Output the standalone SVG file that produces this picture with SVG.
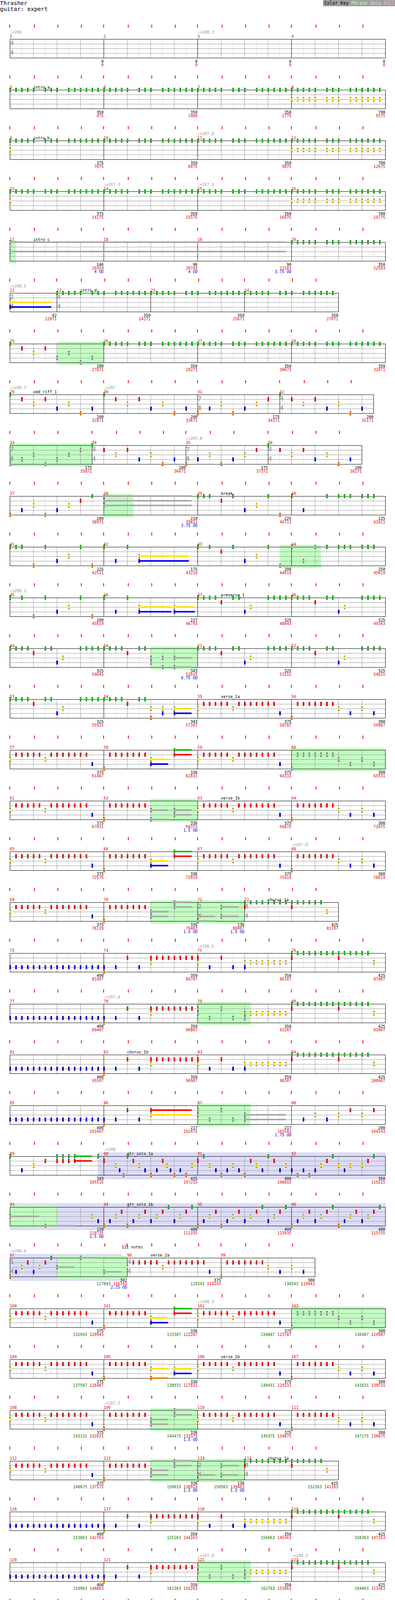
<svg xmlns="http://www.w3.org/2000/svg" width="1010" height="5575" viewBox="0 0 1010 5575" shape-rendering="crispEdges">
<style>
text{font-family:"DejaVu Sans Mono","Liberation Mono",monospace;font-size:10px;fill:#000}
.k{fill:#000}.cg{fill:#00c000}.cr{fill:#f00}.cy{fill:#ffe000}.cb{fill:#0000f0}.co{fill:#ff8000}.cs{fill:#a8a8a8}
.hp{fill:#c0ffc0}.hs{fill:#dcdcf8}.tk{fill:#f00}.bd{fill:none;stroke:#000}.wh{fill:#fff}
.s{text-anchor:end}.rd{fill:#d00}.gr{fill:#070}.bl{fill:#00d}.tp{fill:#999}.ts{fill:#999;font-size:15px;font-weight:bold}
</style>
<defs>
<pattern id="gp" x="25" y="100" width="60" height="130" patternUnits="userSpaceOnUse"><path d="M30.5 0V48" stroke="#ddd"/><path d="M0.5 0V48M0 12.5H60M0 24.5H60M0 36.5H60" stroke="#999"/></pattern>
<rect id="ml" class="k" width="1" height="48"/>
<g id="t2" class="tk"><rect x="-1" y="-37" width="2" height="8"/><rect x="62" y="-37" width="2" height="8"/></g>
<g id="t3" class="tk"><rect x="-1" y="-37" width="2" height="8"/><rect x="62" y="-37" width="2" height="8"/><rect x="122" y="-37" width="2" height="8"/></g>
<g id="t4" class="tk"><rect x="-1" y="-37" width="2" height="8"/><rect x="62" y="-37" width="2" height="8"/><rect x="122" y="-37" width="2" height="8"/><rect x="182" y="-37" width="2" height="8"/></g>
<g id="t5" class="tk"><rect x="-1" y="-37" width="2" height="8"/><rect x="62" y="-37" width="2" height="8"/><rect x="122" y="-37" width="2" height="8"/><rect x="182" y="-37" width="2" height="8"/><rect x="242" y="-37" width="2" height="8"/></g>
<g id="row4"><use href="#t4" x="25"/><use href="#t4" x="265"/><use href="#t4" x="505"/><use href="#t4" x="745"/><use href="#ml" x="25"/><use href="#ml" x="265"/><use href="#ml" x="505"/><use href="#ml" x="745"/><rect class="bd" x="25.5" y="0.5" width="960" height="48"/></g>
<g id="ts44"><text class="ts" x="1" y="16">4</text><text class="ts" x="1" y="40">4</text></g>
<g id="G"><rect class="k" x="-1" y="-5" width="4" height="10"/><rect class="cg" x="-1" y="-4" width="4" height="8"/></g>
<g id="R"><rect class="k" x="-1" y="7" width="4" height="10"/><rect class="cr" x="-1" y="8" width="4" height="8"/></g>
<g id="Y"><rect class="k" x="-1" y="19" width="4" height="10"/><rect class="cy" x="-1" y="20" width="4" height="8"/></g>
<g id="B"><rect class="k" x="-1" y="31" width="4" height="10"/><rect class="cb" x="-1" y="32" width="4" height="8"/></g>
<g id="O"><rect class="k" x="-1" y="43" width="4" height="10"/><rect class="co" x="-1" y="44" width="4" height="8"/></g>
<g id="g"><rect class="k" x="-1" y="-5" width="4" height="10"/><rect class="cs" x="-1" y="-4" width="4" height="8"/></g>
<g id="r"><rect class="k" x="-1" y="7" width="4" height="10"/><rect class="cs" x="-1" y="8" width="4" height="8"/></g>
<g id="y"><rect class="k" x="-1" y="19" width="4" height="10"/><rect class="cs" x="-1" y="20" width="4" height="8"/></g>
<g id="b"><rect class="k" x="-1" y="31" width="4" height="10"/><rect class="cs" x="-1" y="32" width="4" height="8"/></g>
<g id="o"><rect class="k" x="-1" y="43" width="4" height="10"/><rect class="cs" x="-1" y="44" width="4" height="8"/></g>
<g id="P"><use href="#G"/><use href="#G" x="15"/><use href="#G" x="30"/><use href="#G" x="45"/><use href="#G" x="60"/><use href="#G" x="90"/><use href="#G" x="105"/><use href="#G" x="120"/><use href="#G" x="150"/><use href="#G" x="165"/><use href="#G" x="180"/><use href="#G" x="195"/><use href="#G" x="210"/><use href="#G" x="225"/></g>
<g id="PY"><use href="#Y"/><use href="#Y" x="15"/><use href="#Y" x="30"/><use href="#Y" x="45"/><use href="#Y" x="60"/><use href="#Y" x="90"/><use href="#Y" x="105"/><use href="#Y" x="120"/><use href="#Y" x="150"/><use href="#Y" x="165"/><use href="#Y" x="180"/><use href="#Y" x="195"/><use href="#Y" x="210"/><use href="#Y" x="225"/></g>
<g id="A1"><use href="#G"/><use href="#G" x="15"/><use href="#G" x="30"/><use href="#G" x="45"/><use href="#R" x="60"/><use href="#G" x="90"/><use href="#G" x="105"/></g>
<g id="A"><use href="#A1"/><use href="#B" x="120"/><use href="#Y" x="135"/><use href="#G" x="180"/><use href="#G" x="195"/><use href="#G" x="210"/><use href="#G" x="225"/></g>
<g id="V1"><use href="#Y"/><use href="#R" x="15"/><use href="#R" x="30"/><use href="#R" x="45"/><use href="#R" x="60"/><use href="#R" x="75"/><use href="#Y" x="90"/><use href="#R" x="105"/><use href="#R" x="120"/><use href="#R" x="135"/><use href="#R" x="150"/><use href="#R" x="165"/><use href="#R" x="180"/><use href="#R" x="195"/><use href="#B" x="210"/></g>
<g id="V3a"><use href="#O"/><use href="#R" x="15"/><use href="#R" x="30"/><use href="#R" x="45"/><use href="#R" x="60"/><use href="#R" x="75"/><use href="#R" x="90"/><use href="#R" x="105"/></g>
<g id="V2"><use href="#V3a"/><use href="#Y" x="120"/><use href="#B" x="150"/><use href="#Y" x="180"/><use href="#B" x="210"/></g>
<g id="v2"><use href="#o"/><use href="#r" x="15"/><use href="#r" x="30"/><use href="#r" x="45"/><use href="#r" x="60"/><use href="#r" x="75"/><use href="#r" x="90"/><use href="#r" x="105"/><use href="#y" x="120"/><use href="#b" x="150"/><use href="#y" x="180"/><use href="#b" x="210"/></g>
<g id="V3b"><rect class="cy" x="120" y="22" width="45" height="4"/><rect class="cb" x="120" y="34" width="45" height="4"/><rect class="cg" x="180" y="-2" width="45" height="4"/><rect class="cr" x="180" y="10" width="45" height="4"/><use href="#Y" x="120"/><use href="#B" x="120"/><use href="#G" x="180"/><use href="#R" x="180"/></g>
<g id="v3b"><rect class="cs" x="120" y="22" width="45" height="4"/><rect class="cs" x="120" y="34" width="45" height="4"/><rect class="cs" x="180" y="-2" width="45" height="4"/><rect class="cs" x="180" y="10" width="45" height="4"/><use href="#y" x="120"/><use href="#b" x="120"/><use href="#g" x="180"/><use href="#r" x="180"/></g>
<g id="B16"><use href="#B"/><use href="#B" x="15"/><use href="#B" x="30"/><use href="#B" x="45"/><use href="#B" x="60"/><use href="#B" x="75"/><use href="#B" x="90"/><use href="#B" x="105"/><use href="#B" x="120"/><use href="#B" x="135"/><use href="#B" x="150"/><use href="#B" x="165"/><use href="#B" x="180"/><use href="#B" x="195"/><use href="#B" x="210"/><use href="#B" x="225"/></g>
<g id="C1"><use href="#B"/><use href="#O"/><use href="#B" x="30"/><use href="#R" x="60"/><use href="#B" x="90"/><use href="#R" x="120"/><use href="#Y" x="120"/><use href="#R" x="135"/><use href="#R" x="150"/><use href="#R" x="165"/><use href="#R" x="180"/><use href="#R" x="195"/><use href="#R" x="210"/><use href="#R" x="225"/></g>
<g id="c1h"><rect class="cs" x="120" y="10" width="105" height="4"/><rect class="cs" x="120" y="22" width="105" height="4"/><use href="#b"/><use href="#o"/><use href="#b" x="30"/><use href="#r" x="60"/><use href="#b" x="90"/><use href="#r" x="120"/><use href="#y" x="120"/></g>
<g id="C2a"><use href="#R"/><use href="#Y"/><use href="#B" x="30"/><use href="#R" x="60"/><use href="#B" x="90"/><use href="#Y" x="120"/><use href="#B" x="120"/></g>
<g id="c2a"><use href="#r"/><use href="#y"/><use href="#b" x="30"/><use href="#r" x="60"/><use href="#b" x="90"/><use href="#y" x="120"/><use href="#b" x="120"/></g>
<g id="C2b"><use href="#Y" x="135"/><use href="#Y" x="150"/><use href="#Y" x="165"/><use href="#Y" x="180"/><use href="#Y" x="195"/><use href="#Y" x="210"/><use href="#Y" x="225"/></g>
<g id="C3"><use href="#G"/><use href="#G" x="15"/><use href="#G" x="30"/><use href="#G" x="45"/><use href="#G" x="60"/><use href="#G" x="75"/><use href="#G" x="90"/><use href="#G" x="105"/><use href="#G" x="120"/><use href="#G" x="135"/><use href="#G" x="150"/><use href="#G" x="165"/><use href="#G" x="180"/><use href="#G" x="195"/><use href="#R"/><use href="#R" x="120"/><use href="#Y" x="210"/></g>
<g id="OR"><use href="#G"/><use href="#R" x="30"/><use href="#Y" x="60"/><use href="#R" x="90"/><use href="#B" x="120"/><use href="#Y" x="150"/><use href="#O" x="180"/><use href="#B" x="210"/></g>
<g id="OR7"><use href="#O"/><use href="#B" x="30"/><use href="#Y" x="60"/><use href="#O" x="90"/><use href="#B" x="120"/><use href="#Y" x="150"/><use href="#R" x="180"/></g>
<g id="or7"><use href="#o"/><use href="#b" x="30"/><use href="#y" x="60"/><use href="#o" x="90"/><use href="#b" x="120"/><use href="#y" x="150"/><use href="#r" x="180"/></g>
<g id="sBYG"><use href="#B"/><use href="#Y" x="15"/><use href="#G" x="30"/></g>
<g id="sYRG"><use href="#Y"/><use href="#R" x="15"/><use href="#G" x="30"/></g>
<g id="sBRG"><use href="#B"/><use href="#R" x="15"/><use href="#G" x="30"/></g>
<g id="sORG"><use href="#O"/><use href="#R" x="15"/><use href="#G" x="30"/></g>
</defs>
<g id="header">
<text x="0" y="13" style="font-size:14.5px">Thrasher</text>
<text x="0" y="28" style="font-size:14.5px">guitar: expert</text>
<rect x="826" y="0" width="184" height="16" fill="#a0a0a0"/>
<text x="829" y="12" style="font-size:11.5px">Color Key <tspan fill="#c0ffc0">Phrase</tspan> <tspan fill="#dcdcf8">Solo</tspan> <tspan fill="#ffc0c0">Fill</tspan></text>
</g>
<g id="shading">
<rect class="hp" x="25" y="615" width="16" height="59"/>
<rect class="hp" x="145" y="875" width="120" height="59"/>
<rect class="hp" x="25" y="1135" width="210" height="59"/>
<rect class="hp" x="265" y="1265" width="76" height="59"/>
<rect class="hp" x="715" y="1395" width="106" height="59"/>
<rect class="hp" x="385" y="1655" width="120" height="59"/>
<rect class="hp" x="745" y="1915" width="241" height="59"/>
<rect class="hp" x="385" y="2045" width="120" height="59"/>
<rect class="hp" x="385" y="2305" width="240" height="59"/>
<rect class="hp" x="505" y="2565" width="136" height="59"/>
<rect class="hp" x="505" y="2825" width="136" height="59"/>
<rect class="hs" x="250" y="2950" width="736" height="69"/>
<rect class="hs" x="25" y="3080" width="961" height="69"/><rect class="hp" x="25" y="3085" width="120" height="59"/>
<rect class="hs" x="25" y="3210" width="286" height="69"/><rect class="hp" x="145" y="3215" width="180" height="59"/>
<rect class="hp" x="745" y="3345" width="241" height="59"/>
<rect class="hp" x="385" y="3605" width="120" height="59"/>
<rect class="hp" x="385" y="3735" width="240" height="59"/>
<rect class="hp" x="505" y="3995" width="136" height="59"/>
<rect class="hs" x="745" y="4250" width="241" height="69"/><rect class="hp" x="265" y="4255" width="136" height="59"/>
<rect class="hs" x="25" y="4380" width="961" height="69"/>
<rect class="hs" x="25" y="4510" width="961" height="69"/><rect class="hp" x="505" y="4515" width="240" height="59"/>
<rect class="hs" x="25" y="4640" width="961" height="69"/>
<rect class="hs" x="25" y="4770" width="961" height="69"/><rect class="hp" x="265" y="4775" width="256" height="59"/>
<rect class="hs" x="25" y="4900" width="961" height="69"/>
<rect class="hs" x="25" y="5030" width="961" height="69"/>
<rect class="hs" x="25" y="5160" width="961" height="69"/>
<rect class="hs" x="25" y="5290" width="706" height="69"/>
</g>
<g id="grid">
<rect x="25" y="100" width="960" height="5378" fill="url(#gp)"/>
<rect class="wh" x="866" y="750" width="120" height="49"/>
<rect class="wh" x="956" y="1010" width="30" height="49"/>
<rect class="wh" x="926" y="1140" width="60" height="49"/>
<rect class="wh" x="866" y="2310" width="120" height="49"/>
<rect class="wh" x="806" y="3220" width="180" height="49"/>
<rect class="wh" x="866" y="3740" width="120" height="49"/>
</g>
<g id="connectors"></g>

<g id="r1" transform="translate(0,100)"><use href="#row4"/><use href="#ts44" x="25"/>
<text class="tp" x="25" y="-14">♩=208</text><text class="tp" x="505" y="-14">♩=208.3</text>
<text class="rd" x="25" y="-3">1</text><text class="rd" x="265" y="-3">2</text><text class="rd" x="505" y="-3">3</text><text class="rd" x="745" y="-3">4</text>
<text class="s" x="265" y="61">0</text><text class="s rd" x="265" y="70">0</text><text class="s" x="505" y="61">0</text><text class="s rd" x="505" y="70">0</text><text class="s" x="745" y="61">0</text><text class="s rd" x="745" y="70">0</text><text class="s" x="985" y="61">0</text><text class="s rd" x="985" y="70">0</text>
</g>

<g id="r2" transform="translate(0,230)"><use href="#row4"/>
<text x="85" y="-3">intro_a</text>
<text class="rd" x="25" y="-3">5</text><text class="rd" x="265" y="-3">6</text><text class="rd" x="505" y="-3">7</text><text class="rd" x="745" y="-3">8</text>
<use href="#P" x="25"/><use href="#P" x="265"/><use href="#P" x="505"/><use href="#P" x="745"/><use href="#PY" x="745"/>
<text class="s" x="265" y="61">350</text><text class="s rd" x="265" y="70">475</text><text class="s" x="505" y="61">350</text><text class="s rd" x="505" y="70">1400</text><text class="s" x="745" y="61">350</text><text class="s rd" x="745" y="70">2775</text><text class="s" x="985" y="61">700</text><text class="s rd" x="985" y="70">5575</text>
</g>

<g id="r3" transform="translate(0,360)"><use href="#row4"/>
<text x="85" y="-3">intro_b</text><text class="tp" x="505" y="-14">♩=207.8</text>
<text class="rd" x="25" y="-3">9</text><text class="rd" x="265" y="-3">10</text><text class="rd" x="505" y="-3">11</text><text class="rd" x="745" y="-3">12</text>
<use href="#P" x="25"/><use href="#P" x="265"/><use href="#P" x="505"/><use href="#P" x="745"/><use href="#Y" x="25"/><use href="#PY" x="745"/>
<text class="s" x="265" y="61">375</text><text class="s rd" x="265" y="70">7075</text><text class="s" x="505" y="61">350</text><text class="s rd" x="505" y="70">8475</text><text class="s" x="745" y="61">350</text><text class="s rd" x="745" y="70">9875</text><text class="s" x="985" y="61">700</text><text class="s rd" x="985" y="70">12675</text>
</g>

<g id="r4" transform="translate(0,490)"><use href="#row4"/>
<text class="tp" x="265" y="-14">♩=207.3</text><text class="tp" x="505" y="-14">♩=207.8</text>
<text class="rd" x="25" y="-3">13</text><text class="rd" x="265" y="-3">14</text><text class="rd" x="505" y="-3">15</text><text class="rd" x="745" y="-3">16</text>
<use href="#P" x="25"/><use href="#P" x="265"/><use href="#P" x="505"/><use href="#P" x="745"/><use href="#Y" x="25"/><use href="#PY" x="745"/>
<text class="s" x="265" y="61">375</text><text class="s rd" x="265" y="70">14175</text><text class="s" x="505" y="61">350</text><text class="s rd" x="505" y="70">15575</text><text class="s" x="745" y="61">350</text><text class="s rd" x="745" y="70">16975</text><text class="s" x="985" y="61">700</text><text class="s rd" x="985" y="70">19775</text>
</g>

<g id="r5" transform="translate(0,620)"><use href="#row4"/>
<text x="85" y="-3">intro_c</text>
<text class="rd" x="25" y="-3">17</text><text class="rd" x="265" y="-3">18</text><text class="rd" x="505" y="-3">19</text><text class="rd" x="745" y="-3">20</text>
<rect class="cs" x="25" y="-2" width="706" height="4"/><rect class="cs" x="25" y="22" width="706" height="4"/><use href="#g" x="25"/><use href="#y" x="25"/><use href="#P" x="745"/>
<text class="s" x="265" y="61">146</text><text class="s rd" x="265" y="70">20359</text><text class="s bl" x="265" y="79">4 OD</text><text class="s" x="505" y="61">96</text><text class="s rd" x="505" y="70">20743</text><text class="s bl" x="505" y="79">4 OD</text><text class="s" x="745" y="61">90</text><text class="s rd" x="745" y="70">21103</text><text class="s bl" x="745" y="79">3.75 OD</text><text class="s" x="985" y="61">350</text><text class="s rd" x="985" y="70">22503</text>
</g>

<g id="r6" transform="translate(0,750)"><use href="#t2" x="25"/><use href="#t4" x="145"/><use href="#t4" x="385"/><use href="#t4" x="625"/><use href="#ml" x="25"/><use href="#ml" x="145"/><use href="#ml" x="385"/><use href="#ml" x="625"/><rect class="bd" x="25.5" y="0.5" width="840" height="48"/>
<text class="ts" x="26" y="16">2</text><text class="ts" x="26" y="40">4</text><use href="#ts44" x="145"/>
<text class="tp" x="25" y="-14">♩=208.5</text><text x="205" y="-3">intro_d</text>
<text class="rd" x="25" y="-3">21</text><text class="rd" x="145" y="-3">22</text><text class="rd" x="385" y="-3">23</text><text class="rd" x="625" y="-3">24</text>
<rect class="cy" x="25" y="22" width="106" height="4"/><rect class="cb" x="25" y="34" width="106" height="4"/><use href="#Y" x="25"/><use href="#B" x="25"/>
<use href="#P" x="145"/><use href="#P" x="385"/><use href="#P" x="625"/>
<text class="s" x="145" y="61">92</text><text class="s rd" x="145" y="70">22871</text><text class="s" x="385" y="61">350</text><text class="s rd" x="385" y="70">24271</text><text class="s" x="625" y="61">350</text><text class="s rd" x="625" y="70">25671</text><text class="s" x="865" y="61">350</text><text class="s rd" x="865" y="70">27071</text>
</g>

<g id="r7" transform="translate(0,880)"><use href="#row4"/>
<text class="rd" x="25" y="-3">25</text><text class="rd" x="265" y="-3">26</text><text class="rd" x="505" y="-3">27</text><text class="rd" x="745" y="-3">28</text>
<use href="#G" x="25"/><use href="#R" x="55"/><use href="#Y" x="85"/><use href="#R" x="115"/><use href="#b" x="145"/><use href="#y" x="175"/><use href="#o" x="205"/><use href="#b" x="235"/>
<use href="#P" x="265"/><use href="#P" x="505"/><use href="#P" x="745"/>
<text class="s" x="265" y="61">200</text><text class="s rd" x="265" y="70">27871</text><text class="s" x="505" y="61">350</text><text class="s rd" x="505" y="70">29271</text><text class="s" x="745" y="61">350</text><text class="s rd" x="745" y="70">30671</text><text class="s" x="985" y="61">350</text><text class="s rd" x="985" y="70">32071</text>
</g>

<g id="r8" transform="translate(0,1010)"><use href="#t4" x="25"/><use href="#t4" x="265"/><use href="#t3" x="505"/><use href="#t4" x="715"/><use href="#ml" x="25"/><use href="#ml" x="265"/><use href="#ml" x="505"/><use href="#ml" x="715"/><rect class="bd" x="25.5" y="0.5" width="930" height="48"/>
<text class="ts" x="506" y="16">7</text><text class="ts" x="506" y="40">8</text><use href="#ts44" x="715"/>
<text class="tp" x="25" y="-14">♩=208.3</text><text class="tp" x="265" y="-14">♩=207</text><text x="85" y="-3">odd_riff_1</text>
<text class="rd" x="25" y="-3">29</text><text class="rd" x="265" y="-3">30</text><text class="rd" x="505" y="-3">31</text><text class="rd" x="715" y="-3">32</text>
<use href="#OR" x="25"/><use href="#OR" x="265"/><use href="#OR7" x="505"/><use href="#OR" x="715"/>
<text class="s" x="265" y="61">200</text><text class="s rd" x="265" y="70">32871</text><text class="s" x="505" y="61">200</text><text class="s rd" x="505" y="70">33671</text><text class="s" x="715" y="61">175</text><text class="s rd" x="715" y="70">34371</text><text class="s" x="955" y="61">200</text><text class="s rd" x="955" y="70">35171</text>
</g>

<g id="r9" transform="translate(0,1140)"><use href="#t3" x="25"/><use href="#t4" x="235"/><use href="#t3" x="475"/><use href="#t4" x="685"/><use href="#ml" x="25"/><use href="#ml" x="235"/><use href="#ml" x="475"/><use href="#ml" x="685"/><rect class="bd" x="25.5" y="0.5" width="900" height="48"/>
<text class="ts" x="26" y="16">7</text><text class="ts" x="26" y="40">8</text><use href="#ts44" x="235"/><text class="ts" x="476" y="16">7</text><text class="ts" x="476" y="40">8</text><use href="#ts44" x="685"/>
<text class="tp" x="475" y="-14">♩=207.8</text>
<text class="rd" x="25" y="-3">33</text><text class="rd" x="235" y="-3">34</text><text class="rd" x="475" y="-3">35</text><text class="rd" x="685" y="-3">36</text>
<use href="#or7" x="25"/><use href="#OR" x="235"/><use href="#OR7" x="475"/><use href="#OR" x="685"/>
<text class="s" x="235" y="61">175</text><text class="s rd" x="235" y="70">35871</text><text class="s" x="475" y="61">200</text><text class="s rd" x="475" y="70">36671</text><text class="s" x="685" y="61">175</text><text class="s rd" x="685" y="70">37371</text><text class="s" x="925" y="61">200</text><text class="s rd" x="925" y="70">38171</text>
</g>

<g id="r10" transform="translate(0,1270)"><use href="#row4"/>
<text x="565" y="-3">break</text>
<text class="rd" x="25" y="-3">37</text><text class="rd" x="265" y="-3">38</text><text class="rd" x="505" y="-3">39</text><text class="rd" x="745" y="-3">40</text>
<rect class="cs" x="265" y="-2" width="225" height="4"/><rect class="cs" x="265" y="10" width="225" height="4"/><rect class="cs" x="265" y="22" width="225" height="4"/>
<use href="#OR7" x="25"/><use href="#G" x="235"/><use href="#g" x="265"/><use href="#r" x="265"/><use href="#y" x="265"/>
<use href="#G" x="505"/><use href="#G" x="520"/><use href="#G" x="535"/><use href="#R" x="565"/><use href="#G" x="595"/><use href="#B" x="625"/><use href="#Y" x="655"/><use href="#G" x="685"/><use href="#O" x="715"/>
<use href="#G" x="745"/><use href="#B" x="775"/><use href="#G" x="835"/><use href="#G" x="865"/><use href="#G" x="880"/><use href="#G" x="895"/><use href="#G" x="925"/><use href="#G" x="940"/><use href="#G" x="955"/>
<text class="s" x="265" y="61">200</text><text class="s rd" x="265" y="70">38971</text><text class="s" x="505" y="61">210</text><text class="s rd" x="505" y="70">39811</text><text class="s bl" x="505" y="79">3.75 OD</text><text class="s" x="745" y="61">225</text><text class="s rd" x="745" y="70">40711</text><text class="s" x="985" y="61">225</text><text class="s rd" x="985" y="70">41611</text>
</g>

<g id="r11" transform="translate(0,1400)"><use href="#row4"/>
<text class="rd" x="25" y="-3">41</text><text class="rd" x="265" y="-3">42</text><text class="rd" x="505" y="-3">43</text><text class="rd" x="745" y="-3">44</text>
<rect class="cy" x="355" y="22" width="128" height="4"/><rect class="cb" x="355" y="34" width="128" height="4"/>
<use href="#G" x="25"/><use href="#G" x="40"/><use href="#G" x="55"/><use href="#O" x="85"/><use href="#G" x="115"/><use href="#B" x="145"/><use href="#Y" x="175"/><use href="#G" x="205"/><use href="#O" x="235"/>
<use href="#G" x="265"/><use href="#B" x="295"/><use href="#G" x="325"/><use href="#Y" x="355"/><use href="#B" x="355"/>
<use href="#G" x="505"/><use href="#G" x="535"/><use href="#R" x="565"/><use href="#G" x="595"/><use href="#B" x="625"/><use href="#Y" x="655"/><use href="#G" x="685"/>
<use href="#o" x="715"/><use href="#g" x="745"/><use href="#b" x="775"/><use href="#g" x="805"/>
<use href="#G" x="835"/><use href="#G" x="865"/><use href="#G" x="880"/><use href="#G" x="895"/><use href="#G" x="925"/><use href="#G" x="940"/><use href="#G" x="955"/>
<text class="s" x="265" y="61">225</text><text class="s rd" x="265" y="70">42511</text><text class="s" x="505" y="61">175</text><text class="s rd" x="505" y="70">43219</text><text class="s" x="745" y="61">200</text><text class="s rd" x="745" y="70">44019</text><text class="s" x="985" y="61">250</text><text class="s rd" x="985" y="70">45019</text>
</g>

<g id="r12" transform="translate(0,1530)"><use href="#row4"/>
<text class="tp" x="25" y="-14">♩=208.3</text><text x="565" y="-3">preverse_1</text>
<text class="rd" x="25" y="-3">45</text><text class="rd" x="265" y="-3">46</text><text class="rd" x="505" y="-3">47</text><text class="rd" x="745" y="-3">48</text>
<rect class="cy" x="355" y="22" width="83" height="4"/><rect class="cb" x="355" y="34" width="83" height="4"/><rect class="cy" x="445" y="22" width="53" height="4"/><rect class="cb" x="445" y="34" width="53" height="4"/>
<use href="#G" x="25"/><use href="#G" x="55"/><use href="#O" x="85"/><use href="#G" x="115"/><use href="#B" x="145"/><use href="#Y" x="175"/><use href="#G" x="205"/><use href="#O" x="235"/>
<use href="#G" x="265"/><use href="#B" x="295"/><use href="#G" x="325"/><use href="#Y" x="355"/><use href="#B" x="355"/><use href="#Y" x="445"/><use href="#B" x="445"/>
<use href="#A" x="505"/><use href="#A" x="745"/>
<text class="s" x="265" y="61">200</text><text class="s rd" x="265" y="70">45819</text><text class="s" x="505" y="61">227</text><text class="s rd" x="505" y="70">46743</text><text class="s" x="745" y="61">325</text><text class="s rd" x="745" y="70">48043</text><text class="s" x="985" y="61">325</text><text class="s rd" x="985" y="70">49343</text>
</g>

<g id="r13" transform="translate(0,1660)"><use href="#row4"/>
<text class="rd" x="25" y="-3">49</text><text class="rd" x="265" y="-3">50</text><text class="rd" x="505" y="-3">51</text><text class="rd" x="745" y="-3">52</text>
<rect class="cs" x="445" y="22" width="45" height="4"/><rect class="cs" x="445" y="46" width="45" height="4"/>
<use href="#A" x="25"/><use href="#A1" x="265"/><use href="#y" x="385"/><use href="#b" x="385"/><use href="#y" x="415"/><use href="#o" x="415"/><use href="#y" x="445"/><use href="#o" x="445"/><use href="#A" x="505"/><use href="#A" x="745"/>
<text class="s" x="265" y="61">325</text><text class="s rd" x="265" y="70">50643</text><text class="s" x="505" y="61">343</text><text class="s rd" x="505" y="70">52015</text><text class="s bl" x="505" y="79">0.75 OD</text><text class="s" x="745" y="61">325</text><text class="s rd" x="745" y="70">53315</text><text class="s" x="985" y="61">325</text><text class="s rd" x="985" y="70">54615</text>
</g>

<g id="r14" transform="translate(0,1790)"><use href="#row4"/>
<text x="565" y="-3">verse_1a</text>
<text class="rd" x="25" y="-3">53</text><text class="rd" x="265" y="-3">54</text><text class="rd" x="505" y="-3">55</text><text class="rd" x="745" y="-3">56</text>
<rect class="cy" x="445" y="22" width="45" height="4"/><rect class="cb" x="445" y="34" width="45" height="4"/>
<use href="#A" x="25"/><use href="#A1" x="265"/><use href="#Y" x="385"/><use href="#O" x="385"/><use href="#Y" x="415"/><use href="#B" x="415"/><use href="#Y" x="445"/><use href="#B" x="445"/><use href="#V1" x="505"/><use href="#V2" x="745"/>
<text class="s" x="265" y="61">325</text><text class="s rd" x="265" y="70">55915</text><text class="s" x="505" y="61">343</text><text class="s rd" x="505" y="70">57287</text><text class="s" x="745" y="61">375</text><text class="s rd" x="745" y="70">58787</text><text class="s" x="985" y="61">300</text><text class="s rd" x="985" y="70">59987</text>
</g>

<g id="r15" transform="translate(0,1920)"><use href="#row4"/>
<text class="rd" x="25" y="-3">57</text><text class="rd" x="265" y="-3">58</text><text class="rd" x="505" y="-3">59</text><text class="rd" x="745" y="-3">60</text>
<use href="#V1" x="25"/><use href="#V3a" x="265"/><use href="#V3b" x="265"/><use href="#V1" x="505"/><use href="#v2" x="745"/>
<text class="s" x="265" y="61">375</text><text class="s rd" x="265" y="70">61487</text><text class="s" x="505" y="61">336</text><text class="s rd" x="505" y="70">62831</text><text class="s" x="745" y="61">375</text><text class="s rd" x="745" y="70">64331</text><text class="s" x="985" y="61">300</text><text class="s rd" x="985" y="70">65531</text>
</g>

<g id="r16" transform="translate(0,2050)"><use href="#row4"/>
<text x="565" y="-3">verse_1b</text>
<text class="rd" x="25" y="-3">61</text><text class="rd" x="265" y="-3">62</text><text class="rd" x="505" y="-3">63</text><text class="rd" x="745" y="-3">64</text>
<rect class="cs" x="385" y="22" width="45" height="4"/><rect class="cs" x="385" y="46" width="45" height="4"/><rect class="cs" x="445" y="22" width="45" height="4"/><rect class="cs" x="445" y="34" width="45" height="4"/>
<use href="#V1" x="25"/><use href="#V3a" x="265"/><use href="#y" x="385"/><use href="#o" x="385"/><use href="#y" x="445"/><use href="#b" x="445"/><use href="#V1" x="505"/><use href="#V2" x="745"/>
<text class="s" x="265" y="61">375</text><text class="s rd" x="265" y="70">67031</text><text class="s" x="505" y="61">336</text><text class="s rd" x="505" y="70">68375</text><text class="s bl" x="505" y="79">1.5 OD</text><text class="s" x="745" y="61">375</text><text class="s rd" x="745" y="70">69875</text><text class="s" x="985" y="61">300</text><text class="s rd" x="985" y="70">71075</text>
</g>

<g id="r17" transform="translate(0,2180)"><use href="#row4"/>
<text class="tp" x="745" y="-14">♩=207.8</text>
<text class="rd" x="25" y="-3">65</text><text class="rd" x="265" y="-3">66</text><text class="rd" x="505" y="-3">67</text><text class="rd" x="745" y="-3">68</text>
<use href="#V1" x="25"/><use href="#V3a" x="265"/><use href="#V3b" x="265"/><use href="#V1" x="505"/><use href="#V2" x="745"/>
<text class="s" x="265" y="61">375</text><text class="s rd" x="265" y="70">72575</text><text class="s" x="505" y="61">336</text><text class="s rd" x="505" y="70">73919</text><text class="s" x="745" y="61">375</text><text class="s rd" x="745" y="70">75419</text><text class="s" x="985" y="61">300</text><text class="s rd" x="985" y="70">76619</text>
</g>

<g id="r18" transform="translate(0,2310)"><use href="#t4" x="25"/><use href="#t4" x="265"/><use href="#t2" x="505"/><use href="#t4" x="625"/><use href="#ml" x="25"/><use href="#ml" x="265"/><use href="#ml" x="505"/><use href="#ml" x="625"/><rect class="bd" x="25.5" y="0.5" width="840" height="48"/>
<text class="ts" x="506" y="16">2</text><text class="ts" x="506" y="40">4</text><use href="#ts44" x="625"/>
<text x="684" y="-3">chorus_1a</text>
<text class="rd" x="25" y="-3">69</text><text class="rd" x="265" y="-3">70</text><text class="rd" x="505" y="-3">71</text><text class="rd" x="625" y="-3">72</text>
<rect class="cs" x="505" y="34" width="45" height="4"/><rect class="cs" x="505" y="46" width="45" height="4"/><rect class="cs" x="565" y="10" width="45" height="4"/><rect class="cs" x="565" y="34" width="45" height="4"/>
<use href="#V1" x="25"/><use href="#V3a" x="265"/><use href="#v3b" x="265"/><use href="#b" x="505"/><use href="#o" x="505"/><use href="#r" x="565"/><use href="#b" x="565"/><use href="#C3" x="625"/>
<text class="s" x="265" y="61">375</text><text class="s rd" x="265" y="70">78119</text><text class="s" x="505" y="61">336</text><text class="s rd" x="505" y="70">79463</text><text class="s bl" x="505" y="79">1.5 OD</text><text class="s" x="625" y="61">136</text><text class="s rd" x="625" y="70">80007</text><text class="s bl" x="625" y="79">1.5 OD</text><text class="s" x="865" y="61">425</text><text class="s rd" x="865" y="70">81707</text>
</g>

<g id="r19" transform="translate(0,2440)"><use href="#row4"/>
<text class="tp" x="505" y="-14">♩=208.5</text>
<text class="rd" x="25" y="-3">73</text><text class="rd" x="265" y="-3">74</text><text class="rd" x="505" y="-3">75</text><text class="rd" x="745" y="-3">76</text>
<use href="#B16" x="25"/><use href="#C1" x="265"/><use href="#C2a" x="505"/><use href="#C2b" x="505"/><use href="#C3" x="745"/>
<text class="s" x="265" y="61">400</text><text class="s rd" x="265" y="70">83307</text><text class="s" x="505" y="61">350</text><text class="s rd" x="505" y="70">84707</text><text class="s" x="745" y="61">350</text><text class="s rd" x="745" y="70">86107</text><text class="s" x="985" y="61">425</text><text class="s rd" x="985" y="70">87807</text>
</g>

<g id="r20" transform="translate(0,2570)"><use href="#row4"/>
<text class="tp" x="265" y="-14">♩=207.8</text>
<text class="rd" x="25" y="-3">77</text><text class="rd" x="265" y="-3">78</text><text class="rd" x="505" y="-3">79</text><text class="rd" x="745" y="-3">80</text>
<use href="#B16" x="25"/><use href="#C1" x="265"/><use href="#c2a" x="505"/><use href="#C2b" x="505"/><use href="#C3" x="745"/>
<text class="s" x="265" y="61">400</text><text class="s rd" x="265" y="70">89407</text><text class="s" x="505" y="61">350</text><text class="s rd" x="505" y="70">90807</text><text class="s" x="745" y="61">350</text><text class="s rd" x="745" y="70">92207</text><text class="s" x="985" y="61">425</text><text class="s rd" x="985" y="70">93907</text>
</g>

<g id="r21" transform="translate(0,2700)"><use href="#row4"/>
<text x="325" y="-3">chorus_1b</text>
<text class="rd" x="25" y="-3">81</text><text class="rd" x="265" y="-3">82</text><text class="rd" x="505" y="-3">83</text><text class="rd" x="745" y="-3">84</text>
<use href="#B16" x="25"/><use href="#C1" x="265"/><use href="#C2a" x="505"/><use href="#C2b" x="505"/><use href="#C3" x="745"/>
<text class="s" x="265" y="61">400</text><text class="s rd" x="265" y="70">95507</text><text class="s" x="505" y="61">350</text><text class="s rd" x="505" y="70">96907</text><text class="s" x="745" y="61">350</text><text class="s rd" x="745" y="70">98307</text><text class="s" x="985" y="61">425</text><text class="s rd" x="985" y="70">100007</text>
</g>

<g id="r22" transform="translate(0,2830)"><use href="#row4"/>
<text class="rd" x="25" y="-3">85</text><text class="rd" x="265" y="-3">86</text><text class="rd" x="505" y="-3">87</text><text class="rd" x="745" y="-3">88</text>
<rect class="cr" x="385" y="10" width="105" height="4"/><rect class="cy" x="385" y="22" width="105" height="4"/><rect class="cs" x="625" y="22" width="106" height="4"/><rect class="cs" x="625" y="34" width="106" height="4"/>
<use href="#B16" x="25"/><use href="#B" x="265"/><use href="#O" x="265"/><use href="#B" x="295"/><use href="#R" x="325"/><use href="#B" x="355"/><use href="#R" x="385"/><use href="#Y" x="385"/><use href="#c2a" x="505"/>
<use href="#B" x="775"/><use href="#Y" x="805"/><use href="#B" x="835"/><use href="#Y" x="865"/><use href="#R" x="895"/><use href="#Y" x="925"/><use href="#R" x="955"/>
<text class="s" x="265" y="61">400</text><text class="s rd" x="265" y="70">101607</text><text class="s" x="505" y="61">217</text><text class="s rd" x="505" y="70">102475</text><text class="s" x="745" y="61">217</text><text class="s rd" x="745" y="70">103343</text><text class="s bl" x="745" y="79">1.75 OD</text><text class="s" x="985" y="61">200</text><text class="s rd" x="985" y="70">104143</text>
</g>

<g id="r23" transform="translate(0,2960)"><use href="#row4"/>
<text class="tp" x="265" y="-14">♩=208</text><text x="325" y="-3">gtr_solo_1a</text>
<text class="rd" x="25" y="-3">89</text><text class="rd" x="265" y="-3">90</text><text class="rd" x="505" y="-3">91</text><text class="rd" x="745" y="-3">92</text>
<rect class="cg" x="190" y="-2" width="45" height="4"/><rect class="cr" x="190" y="10" width="45" height="4"/>
<use href="#G" x="25"/><use href="#B" x="55"/><use href="#Y" x="85"/><use href="#R" x="115"/><use href="#G" x="145"/><use href="#G" x="160"/><use href="#G" x="175"/><use href="#G" x="190"/><use href="#R" x="145"/><use href="#R" x="160"/><use href="#R" x="175"/><use href="#R" x="190"/><use href="#G" x="250"/>
<use href="#R" x="265"/><use href="#R" x="340"/><use href="#R" x="415"/><use href="#R" x="505"/><use href="#R" x="640"/><use href="#R" x="700"/><use href="#R" x="835"/><use href="#R" x="940"/>
<use href="#Y" x="295"/><use href="#Y" x="355"/><use href="#Y" x="426"/><use href="#Y" x="490"/><use href="#Y" x="535"/><use href="#Y" x="595"/><use href="#Y" x="655"/><use href="#Y" x="730"/><use href="#Y" x="820"/><use href="#Y" x="865"/><use href="#Y" x="895"/><use href="#Y" x="925"/>
<use href="#B" x="305"/><use href="#B" x="370"/><use href="#B" x="400"/><use href="#B" x="435"/><use href="#B" x="460"/><use href="#B" x="551"/><use href="#B" x="580"/><use href="#B" x="610"/><use href="#B" x="670"/><use href="#B" x="715"/><use href="#B" x="745"/><use href="#B" x="775"/><use href="#B" x="805"/><use href="#B" x="880"/>
<use href="#O" x="315"/><use href="#O" x="385"/><use href="#O" x="445"/><use href="#O" x="475"/><use href="#O" x="565"/><use href="#O" x="625"/><use href="#O" x="760"/><use href="#O" x="790"/>
<use href="#G" x="325"/><use href="#G" x="520"/><use href="#G" x="685"/><use href="#G" x="850"/><use href="#G" x="955"/>
<text class="s" x="265" y="61">343</text><text class="s rd" x="265" y="70">105515</text><text class="s" x="505" y="61">425</text><text class="s rd" x="505" y="70">107215</text><text class="s" x="745" y="61">400</text><text class="s rd" x="745" y="70">108815</text><text class="s" x="985" y="61">350</text><text class="s rd" x="985" y="70">110215</text>
</g>

<g id="r24" transform="translate(0,3090)"><use href="#row4"/>
<text x="325" y="-3">gtr_solo_1b</text>
<text class="rd" x="25" y="-3">93</text><text class="rd" x="265" y="-3">94</text><text class="rd" x="505" y="-3">95</text><text class="rd" x="745" y="-3">96</text>
<rect class="cs" x="25" y="22" width="75" height="4"/><rect class="cs" x="115" y="46" width="75" height="4"/><use href="#y" x="25"/><use href="#o" x="115"/>
<use href="#R" x="310"/><use href="#R" x="370"/><use href="#R" x="415"/><use href="#R" x="475"/><use href="#R" x="551"/><use href="#R" x="610"/><use href="#R" x="655"/><use href="#R" x="715"/><use href="#R" x="790"/><use href="#R" x="835"/><use href="#R" x="910"/><use href="#R" x="955"/>
<use href="#Y" x="235"/><use href="#Y" x="295"/><use href="#Y" x="355"/><use href="#Y" x="400"/><use href="#Y" x="460"/><use href="#Y" x="535"/><use href="#Y" x="595"/><use href="#Y" x="640"/><use href="#Y" x="700"/><use href="#Y" x="775"/><use href="#Y" x="820"/><use href="#Y" x="895"/><use href="#Y" x="940"/>
<use href="#B" x="250"/><use href="#B" x="280"/><use href="#B" x="340"/><use href="#B" x="385"/><use href="#B" x="445"/><use href="#B" x="520"/><use href="#B" x="580"/><use href="#B" x="625"/><use href="#B" x="685"/><use href="#B" x="760"/><use href="#B" x="805"/><use href="#B" x="880"/><use href="#B" x="925"/>
<use href="#O" x="265"/><use href="#O" x="325"/><use href="#O" x="505"/><use href="#O" x="565"/><use href="#O" x="745"/><use href="#O" x="865"/>
<use href="#G" x="430"/><use href="#G" x="490"/><use href="#G" x="670"/><use href="#G" x="730"/><use href="#G" x="850"/><use href="#G" x="970"/>
<text class="s" x="265" y="61">130</text><text class="s rd" x="265" y="70">110735</text><text class="s bl" x="265" y="79">2.5 OD</text><text class="s" x="505" y="61">400</text><text class="s rd" x="505" y="70">112335</text><text class="s" x="745" y="61">400</text><text class="s rd" x="745" y="70">113935</text><text class="s" x="985" y="61">400</text><text class="s rd" x="985" y="70">115535</text>
</g>

<g id="r25" transform="translate(0,3220)"><use href="#t5" x="25"/><use href="#t4" x="325"/><use href="#t4" x="565"/><use href="#ml" x="25"/><use href="#ml" x="325"/><use href="#ml" x="565"/><rect class="bd" x="25.5" y="0.5" width="780" height="48"/>
<text class="ts" x="26" y="16">5</text><text class="ts" x="26" y="40">4</text><use href="#ts44" x="325"/>
<text class="tp" x="25" y="-14">♩=208.8</text><text x="311" y="-24">111 notes</text><text x="385" y="-3">verse_2a</text>
<text class="rd" x="25" y="-3">97</text><text class="rd" x="325" y="-3">98</text><text class="rd" x="565" y="-3">99</text>
<rect class="cs" x="145" y="22" width="45" height="4"/><rect class="cs" x="205" y="-2" width="45" height="4"/><rect class="cs" x="265" y="34" width="45" height="4"/>
<use href="#O" x="25"/><use href="#B" x="40"/><use href="#Y" x="55"/><use href="#R" x="70"/><use href="#B" x="85"/><use href="#Y" x="100"/><use href="#R" x="115"/><use href="#G" x="130"/><use href="#y" x="145"/><use href="#g" x="205"/><use href="#b" x="265"/>
<use href="#V1" x="325"/><use href="#V2" x="565"/>
<text class="s" x="325" y="61">302</text><text class="s" x="325" y="70"><tspan class="gr">127843</tspan> <tspan class="rd">116743</tspan></text><text class="s bl" x="325" y="79">2.25 OD</text>
<text class="s" x="565" y="61">375</text><text class="s" x="565" y="70"><tspan class="gr">129343</tspan> <tspan class="rd">118243</tspan></text>
<text class="s" x="805" y="61">300</text><text class="s" x="805" y="70"><tspan class="gr">130543</tspan> <tspan class="rd">119443</tspan></text>
</g>

<g id="r26" transform="translate(0,3350)"><use href="#row4"/>
<text class="tp" x="505" y="-14">♩=208.3</text>
<text class="rd" x="25" y="-3">100</text><text class="rd" x="265" y="-3">101</text><text class="rd" x="505" y="-3">102</text><text class="rd" x="745" y="-3">103</text>
<use href="#V1" x="25"/><use href="#V3a" x="265"/><use href="#V3b" x="265"/><use href="#V1" x="505"/><use href="#v2" x="745"/>
<text class="s" x="265" y="61">375</text><text class="s" x="265" y="70"><tspan class="gr">132043</tspan> <tspan class="rd">120943</tspan></text>
<text class="s" x="505" y="61">336</text><text class="s" x="505" y="70"><tspan class="gr">133387</tspan> <tspan class="rd">122287</tspan></text>
<text class="s" x="745" y="61">375</text><text class="s" x="745" y="70"><tspan class="gr">134887</tspan> <tspan class="rd">123787</tspan></text>
<text class="s" x="985" y="61">300</text><text class="s" x="985" y="70"><tspan class="gr">136087</tspan> <tspan class="rd">124987</tspan></text>
</g>

<g id="r27" transform="translate(0,3480)"><use href="#row4"/>
<text x="565" y="-3">verse_2b</text>
<text class="rd" x="25" y="-3">104</text><text class="rd" x="265" y="-3">105</text><text class="rd" x="505" y="-3">106</text><text class="rd" x="745" y="-3">107</text>
<rect class="cy" x="385" y="22" width="45" height="4"/><rect class="co" x="385" y="46" width="45" height="4"/><rect class="cy" x="445" y="22" width="45" height="4"/><rect class="cb" x="445" y="34" width="45" height="4"/>
<use href="#V1" x="25"/><use href="#V3a" x="265"/><use href="#Y" x="385"/><use href="#O" x="385"/><use href="#Y" x="445"/><use href="#B" x="445"/><use href="#V1" x="505"/><use href="#V2" x="745"/>
<text class="s" x="265" y="61">375</text><text class="s" x="265" y="70"><tspan class="gr">137587</tspan> <tspan class="rd">126487</tspan></text>
<text class="s" x="505" y="61">336</text><text class="s" x="505" y="70"><tspan class="gr">138931</tspan> <tspan class="rd">127831</tspan></text>
<text class="s" x="745" y="61">375</text><text class="s" x="745" y="70"><tspan class="gr">140431</tspan> <tspan class="rd">129331</tspan></text>
<text class="s" x="985" y="61">300</text><text class="s" x="985" y="70"><tspan class="gr">141631</tspan> <tspan class="rd">130531</tspan></text>
</g>

<g id="r28" transform="translate(0,3610)"><use href="#row4"/>
<text class="tp" x="265" y="-14">♩=207.5</text>
<text class="rd" x="25" y="-3">108</text><text class="rd" x="265" y="-3">109</text><text class="rd" x="505" y="-3">110</text><text class="rd" x="745" y="-3">111</text>
<use href="#V1" x="25"/><use href="#V3a" x="265"/><use href="#v3b" x="265"/><use href="#V1" x="505"/><use href="#V2" x="745"/>
<text class="s" x="265" y="61">375</text><text class="s" x="265" y="70"><tspan class="gr">143131</tspan> <tspan class="rd">132031</tspan></text>
<text class="s" x="505" y="61">336</text><text class="s" x="505" y="70"><tspan class="gr">144475</tspan> <tspan class="rd">133375</tspan></text><text class="s bl" x="505" y="79">1.5 OD</text>
<text class="s" x="745" y="61">375</text><text class="s" x="745" y="70"><tspan class="gr">145975</tspan> <tspan class="rd">134875</tspan></text>
<text class="s" x="985" y="61">300</text><text class="s" x="985" y="70"><tspan class="gr">147175</tspan> <tspan class="rd">136075</tspan></text>
</g>

<g id="r29" transform="translate(0,3740)"><use href="#t4" x="25"/><use href="#t4" x="265"/><use href="#t2" x="505"/><use href="#t4" x="625"/><use href="#ml" x="25"/><use href="#ml" x="265"/><use href="#ml" x="505"/><use href="#ml" x="625"/><rect class="bd" x="25.5" y="0.5" width="840" height="48"/>
<text class="ts" x="506" y="16">2</text><text class="ts" x="506" y="40">4</text><use href="#ts44" x="625"/>
<text x="684" y="-3">chorus_1a</text>
<text class="rd" x="25" y="-3">112</text><text class="rd" x="265" y="-3">113</text><text class="rd" x="505" y="-3">114</text><text class="rd" x="625" y="-3">115</text>
<rect class="cs" x="505" y="34" width="45" height="4"/><rect class="cs" x="505" y="46" width="45" height="4"/><rect class="cs" x="565" y="10" width="45" height="4"/><rect class="cs" x="565" y="34" width="45" height="4"/>
<use href="#V1" x="25"/><use href="#V3a" x="265"/><use href="#v3b" x="265"/><use href="#b" x="505"/><use href="#o" x="505"/><use href="#r" x="565"/><use href="#b" x="565"/><use href="#C3" x="625"/>
<text class="s" x="265" y="61">375</text><text class="s" x="265" y="70"><tspan class="gr">148675</tspan> <tspan class="rd">137575</tspan></text>
<text class="s" x="505" y="61">336</text><text class="s" x="505" y="70"><tspan class="gr">150019</tspan> <tspan class="rd">138919</tspan></text><text class="s bl" x="505" y="79">1.5 OD</text>
<text class="s" x="625" y="61">136</text><text class="s" x="625" y="70"><tspan class="gr">150563</tspan> <tspan class="rd">139463</tspan></text><text class="s bl" x="625" y="79">1.5 OD</text>
<text class="s" x="865" y="61">425</text><text class="s" x="865" y="70"><tspan class="gr">152263</tspan> <tspan class="rd">141163</tspan></text>
</g>

<g id="r30" transform="translate(0,3870)"><use href="#row4"/>
<text class="rd" x="25" y="-3">116</text><text class="rd" x="265" y="-3">117</text><text class="rd" x="505" y="-3">118</text><text class="rd" x="745" y="-3">119</text>
<use href="#B16" x="25"/><use href="#C1" x="265"/><use href="#C2a" x="505"/><use href="#C2b" x="505"/><use href="#C3" x="745"/>
<text class="s" x="265" y="61">400</text><text class="s" x="265" y="70"><tspan class="gr">153863</tspan> <tspan class="rd">142763</tspan></text>
<text class="s" x="505" y="61">350</text><text class="s" x="505" y="70"><tspan class="gr">155263</tspan> <tspan class="rd">144163</tspan></text>
<text class="s" x="745" y="61">350</text><text class="s" x="745" y="70"><tspan class="gr">156663</tspan> <tspan class="rd">145563</tspan></text>
<text class="s" x="985" y="61">425</text><text class="s" x="985" y="70"><tspan class="gr">158363</tspan> <tspan class="rd">147263</tspan></text>
</g>

<g id="r31" transform="translate(0,4000)"><use href="#row4"/>
<text class="tp" x="505" y="-14">♩=207.8</text><text class="tp" x="745" y="-14">♩=208.3</text>
<text class="rd" x="25" y="-3">120</text><text class="rd" x="265" y="-3">121</text><text class="rd" x="505" y="-3">122</text><text class="rd" x="745" y="-3">123</text>
<use href="#B16" x="25"/><use href="#C1" x="265"/><use href="#c2a" x="505"/><use href="#C2b" x="505"/><use href="#C3" x="745"/>
<text class="s" x="265" y="61">400</text><text class="s" x="265" y="70"><tspan class="gr">159963</tspan> <tspan class="rd">148863</tspan></text>
<text class="s" x="505" y="61">350</text><text class="s" x="505" y="70"><tspan class="gr">161363</tspan> <tspan class="rd">150263</tspan></text>
<text class="s" x="745" y="61">350</text><text class="s" x="745" y="70"><tspan class="gr">162763</tspan> <tspan class="rd">151663</tspan></text>
<text class="s" x="985" y="61">425</text><text class="s" x="985" y="70"><tspan class="gr">164463</tspan> <tspan class="rd">153363</tspan></text>
</g>

<g id="r32" transform="translate(0,4130)"><use href="#row4"/>
<text x="325" y="-3">chorus_1b</text>
<text class="rd" x="25" y="-3">124</text><text class="rd" x="265" y="-3">125</text><text class="rd" x="505" y="-3">126</text><text class="rd" x="745" y="-3">127</text>
<use href="#B16" x="25"/><use href="#C1" x="265"/><use href="#C2a" x="505"/><use href="#C2b" x="505"/><use href="#C3" x="745"/>
<text class="s" x="265" y="61">400</text><text class="s" x="265" y="70"><tspan class="gr">166063</tspan> <tspan class="rd">154963</tspan></text>
<text class="s" x="505" y="61">350</text><text class="s" x="505" y="70"><tspan class="gr">167463</tspan> <tspan class="rd">156363</tspan></text>
<text class="s" x="745" y="61">350</text><text class="s" x="745" y="70"><tspan class="gr">168863</tspan> <tspan class="rd">157763</tspan></text>
<text class="s" x="985" y="61">425</text><text class="s" x="985" y="70"><tspan class="gr">170563</tspan> <tspan class="rd">159463</tspan></text>
</g>

<g id="r33" transform="translate(0,4260)"><use href="#row4"/>
<text x="805" y="-3">gtr_solo_2a</text>
<text class="rd" x="25" y="-3">128</text><text class="rd" x="265" y="-3">129</text><text class="rd" x="505" y="-3">130</text><text class="rd" x="745" y="-3">131</text>
<rect class="cr" x="625" y="10" width="106" height="4"/><rect class="cy" x="625" y="22" width="106" height="4"/><rect class="cb" x="625" y="34" width="106" height="4"/>
<use href="#B16" x="25"/><use href="#c1h" x="265"/>
<use href="#R" x="505"/><use href="#Y" x="505"/><use href="#B" x="535"/><use href="#R" x="565"/><use href="#B" x="595"/><use href="#R" x="625"/><use href="#Y" x="625"/><use href="#B" x="625"/>
<use href="#B" x="745"/><use href="#Y" x="760"/><use href="#G" x="775"/><use href="#B" x="805"/><use href="#Y" x="820"/><use href="#G" x="835"/><use href="#B" x="865"/><use href="#Y" x="880"/><use href="#G" x="895"/><use href="#B" x="925"/><use href="#Y" x="940"/><use href="#G" x="955"/>
<text class="s" x="265" y="61">400</text><text class="s" x="265" y="70"><tspan class="gr">172163</tspan> <tspan class="rd">161063</tspan></text>
<text class="s" x="505" y="61">217</text><text class="s" x="505" y="70"><tspan class="gr">173031</tspan> <tspan class="rd">161931</tspan></text><text class="s bl" x="505" y="79">1.75 OD</text>
<text class="s" x="745" y="61">263</text><text class="s" x="745" y="70"><tspan class="gr">174083</tspan> <tspan class="rd">162983</tspan></text>
<text class="s" x="985" y="61">300</text><text class="s" x="985" y="70"><tspan class="gr">175283</tspan> <tspan class="rd">164183</tspan></text>
</g>

<g id="r34" transform="translate(0,4390)"><use href="#row4"/>
<text class="rd" x="25" y="-3">132</text><text class="rd" x="265" y="-3">133</text><text class="rd" x="505" y="-3">134</text><text class="rd" x="745" y="-3">135</text>
<use href="#sBYG" x="25"/><use href="#sBYG" x="85"/><use href="#sBYG" x="145"/><use href="#sBYG" x="205"/>
<use href="#sYRG" x="265"/><use href="#sYRG" x="325"/><use href="#sYRG" x="385"/><use href="#sYRG" x="445"/>
<use href="#sBRG" x="505"/><use href="#sBRG" x="565"/><use href="#sORG" x="625"/><use href="#sORG" x="685"/>
<use href="#sBRG" x="745"/><use href="#sBRG" x="805"/><use href="#sBRG" x="865"/><use href="#sBRG" x="925"/>
<text class="s" x="265" y="61">300</text><text class="s" x="265" y="70"><tspan class="gr">176483</tspan> <tspan class="rd">165383</tspan></text>
<text class="s" x="505" y="61">300</text><text class="s" x="505" y="70"><tspan class="gr">177683</tspan> <tspan class="rd">166583</tspan></text>
<text class="s" x="745" y="61">300</text><text class="s" x="745" y="70"><tspan class="gr">178883</tspan> <tspan class="rd">167783</tspan></text>
<text class="s" x="985" y="61">300</text><text class="s" x="985" y="70"><tspan class="gr">180083</tspan> <tspan class="rd">168983</tspan></text>
</g>

<g id="r35" transform="translate(0,4520)"><use href="#row4"/>
<text x="805" y="-3">gtr_solo_2b</text>
<text class="rd" x="25" y="-3">136</text><text class="rd" x="265" y="-3">137</text><text class="rd" x="505" y="-3">138</text><text class="rd" x="745" y="-3">139</text>
<use href="#sORG" x="25"/><use href="#sORG" x="85"/><use href="#sORG" x="145"/><use href="#sORG" x="205"/>
<use href="#sYRG" x="265"/><use href="#sYRG" x="325"/><use href="#sYRG" x="385"/><use href="#sYRG" x="445"/>
<rect class="cs" x="625" y="34" width="106" height="4"/>
<use href="#b" x="505"/><use href="#r" x="520"/><use href="#g" x="535"/><use href="#b" x="565"/><use href="#r" x="580"/><use href="#g" x="595"/><use href="#b" x="625"/>
<use href="#O" x="745"/><use href="#B" x="760"/><use href="#Y" x="775"/><use href="#R" x="790"/><use href="#Y" x="805"/><use href="#B" x="820"/><use href="#O" x="835"/><use href="#B" x="850"/><use href="#Y" x="865"/><use href="#R" x="880"/><use href="#Y" x="895"/><use href="#B" x="910"/><use href="#O" x="925"/><use href="#B" x="940"/><use href="#Y" x="955"/><use href="#R" x="970"/>
<text class="s" x="265" y="61">300</text><text class="s" x="265" y="70"><tspan class="gr">181283</tspan> <tspan class="rd">170183</tspan></text>
<text class="s" x="505" y="61">300</text><text class="s" x="505" y="70"><tspan class="gr">182483</tspan> <tspan class="rd">171383</tspan></text>
<text class="s" x="745" y="61">196</text><text class="s" x="745" y="70"><tspan class="gr">183267</tspan> <tspan class="rd">172167</tspan></text><text class="s bl" x="745" y="79">1.75 OD</text>
<text class="s" x="985" y="61">400</text><text class="s" x="985" y="70"><tspan class="gr">184867</tspan> <tspan class="rd">173767</tspan></text>
</g>

<g id="r36" transform="translate(0,4650)"><use href="#row4"/>
<text class="tp" x="505" y="-14">♩=207.5</text>
<text class="rd" x="25" y="-3">140</text><text class="rd" x="265" y="-3">141</text><text class="rd" x="505" y="-3">142</text><text class="rd" x="745" y="-3">143</text>
<use href="#Y" x="25"/><use href="#B" x="40"/><use href="#O" x="55"/><use href="#B" x="70"/><use href="#Y" x="85"/><use href="#R" x="100"/><use href="#Y" x="115"/><use href="#B" x="130"/><use href="#O" x="145"/><use href="#B" x="160"/><use href="#Y" x="175"/><use href="#R" x="190"/><use href="#G" x="205"/><use href="#R" x="220"/><use href="#Y" x="235"/><use href="#B" x="250"/>
<use href="#Y" x="265"/><use href="#O" x="265"/><use href="#B" x="280"/><use href="#Y" x="295"/><use href="#R" x="310"/><use href="#O" x="325"/><use href="#B" x="340"/><use href="#Y" x="355"/><use href="#R" x="370"/><use href="#B" x="385"/><use href="#Y" x="400"/><use href="#R" x="415"/><use href="#G" x="430"/><use href="#B" x="445"/><use href="#Y" x="460"/><use href="#R" x="475"/><use href="#G" x="490"/>
<use href="#O" x="505"/><use href="#B" x="520"/><use href="#Y" x="535"/><use href="#R" x="550"/><use href="#B" x="565"/><use href="#Y" x="580"/><use href="#R" x="595"/><use href="#G" x="610"/><use href="#O" x="625"/><use href="#B" x="640"/><use href="#Y" x="655"/><use href="#R" x="670"/><use href="#B" x="685"/><use href="#O" x="700"/><use href="#B" x="715"/><use href="#Y" x="730"/>
<rect class="cr" x="745" y="10" width="76" height="4"/><use href="#R" x="745"/><use href="#O" x="835"/><use href="#Y" x="895"/><use href="#B" x="955"/>
<text class="s" x="265" y="61">400</text><text class="s" x="265" y="70"><tspan class="gr">186467</tspan> <tspan class="rd">175367</tspan></text>
<text class="s" x="505" y="61">400</text><text class="s" x="505" y="70"><tspan class="gr">188067</tspan> <tspan class="rd">176967</tspan></text>
<text class="s" x="745" y="61">400</text><text class="s" x="745" y="70"><tspan class="gr">189667</tspan> <tspan class="rd">178567</tspan></text>
<text class="s" x="985" y="61">115</text><text class="s" x="985" y="70"><tspan class="gr">190127</tspan> <tspan class="rd">179027</tspan></text>
</g>

<g id="r37" transform="translate(0,4780)"><use href="#row4"/>
<text class="tp" x="745" y="-14">♩=208</text><text x="805" y="-3">gtr_solo_2c</text>
<text class="rd" x="25" y="-3">144</text><text class="rd" x="265" y="-3">145</text><text class="rd" x="505" y="-3">146</text><text class="rd" x="745" y="-3">147</text>
<use href="#R" x="25"/><use href="#Y" x="65"/><use href="#G" x="105"/><use href="#O" x="145"/><use href="#Y" x="197"/><use href="#B" x="227"/>
<rect class="cs" x="505" y="-2" width="211" height="4"/>
<use href="#g" x="265"/><use href="#o" x="305"/><use href="#y" x="340"/><use href="#b" x="375"/><use href="#r" x="420"/><use href="#y" x="460"/><use href="#g" x="505"/><use href="#R" x="730"/>
<rect class="cb" x="745" y="34" width="60" height="4"/><use href="#B" x="745"/><use href="#G" x="835"/><use href="#R" x="865"/><use href="#Y" x="895"/><use href="#B" x="925"/><use href="#O" x="955"/>
<text class="s" x="265" y="61">150</text><text class="s" x="265" y="70"><tspan class="gr">190727</tspan> <tspan class="rd">179627</tspan></text>
<text class="s" x="505" y="61">150</text><text class="s" x="505" y="70"><tspan class="gr">191327</tspan> <tspan class="rd">180227</tspan></text>
<text class="s" x="745" y="61">92</text><text class="s" x="745" y="70"><tspan class="gr">191695</tspan> <tspan class="rd">180595</tspan></text><text class="s bl" x="745" y="79">3.5 OD</text>
<text class="s" x="985" y="61">162</text><text class="s" x="985" y="70"><tspan class="gr">192343</tspan> <tspan class="rd">181243</tspan></text>
</g>

<g id="r38" transform="translate(0,4910)"><use href="#row4"/>
<text class="rd" x="25" y="-3">148</text><text class="rd" x="265" y="-3">149</text><text class="rd" x="505" y="-3">150</text><text class="rd" x="745" y="-3">151</text>
<use href="#G" x="25"/><use href="#Y" x="55"/><use href="#G" x="85"/><use href="#R" x="115"/><use href="#B" x="145"/><use href="#R" x="175"/><use href="#Y" x="205"/><use href="#B" x="235"/>
<rect class="cr" x="265" y="10" width="75" height="4"/><use href="#R" x="265"/><rect class="cy" x="355" y="22" width="75" height="4"/><use href="#Y" x="355"/><use href="#Y" x="445"/><use href="#B" x="460"/><use href="#Y" x="475"/><use href="#R" x="490"/>
<rect class="cy" x="505" y="22" width="165" height="4"/><use href="#Y" x="505"/><use href="#Y" x="685"/><use href="#B" x="715"/>
<rect class="co" x="745" y="46" width="135" height="4"/><use href="#O" x="745"/><rect class="cb" x="895" y="34" width="45" height="4"/><use href="#B" x="895"/><use href="#Y" x="955"/>
<text class="s" x="265" y="61">200</text><text class="s" x="265" y="70"><tspan class="gr">193143</tspan> <tspan class="rd">182043</tspan></text>
<text class="s" x="505" y="61">180</text><text class="s" x="505" y="70"><tspan class="gr">193863</tspan> <tspan class="rd">182763</tspan></text>
<text class="s" x="745" y="61">108</text><text class="s" x="745" y="70"><tspan class="gr">194295</tspan> <tspan class="rd">183195</tspan></text>
<text class="s" x="985" y="61">111</text><text class="s" x="985" y="70"><tspan class="gr">194739</tspan> <tspan class="rd">183639</tspan></text>
</g>

<g id="r39" transform="translate(0,5040)"><use href="#row4"/>
<text x="805" y="-3">gtr_solo_2d</text>
<text class="rd" x="25" y="-3">152</text><text class="rd" x="265" y="-3">153</text><text class="rd" x="505" y="-3">154</text><text class="rd" x="745" y="-3">155</text>
<rect class="cb" x="25" y="34" width="75" height="4"/><use href="#B" x="25"/><rect class="cy" x="115" y="22" width="40" height="4"/><use href="#Y" x="115"/><use href="#B" x="175"/><use href="#Y" x="190"/><rect class="cr" x="205" y="10" width="45" height="4"/><use href="#R" x="205"/>
<rect class="cy" x="265" y="22" width="75" height="4"/><use href="#Y" x="265"/><rect class="cy" x="355" y="22" width="101" height="4"/><use href="#Y" x="355"/><use href="#Y" x="475"/><use href="#O" x="490"/>
<use href="#B" x="505"/><use href="#Y" x="520"/><use href="#R" x="535"/><use href="#Y" x="550"/><use href="#B" x="565"/><use href="#Y" x="580"/><use href="#R" x="595"/><use href="#Y" x="610"/><use href="#O" x="625"/><use href="#B" x="640"/><use href="#Y" x="655"/><use href="#R" x="670"/><use href="#Y" x="685"/><use href="#O" x="700"/><use href="#B" x="715"/><use href="#Y" x="730"/>
<rect class="cr" x="745" y="10" width="105" height="4"/><use href="#R" x="745"/><rect class="cg" x="865" y="-2" width="45" height="4"/><use href="#G" x="865"/><use href="#Y" x="925"/><use href="#B" x="955"/>
<text class="s" x="265" y="61">157</text><text class="s" x="265" y="70"><tspan class="gr">195367</tspan> <tspan class="rd">184267</tspan></text>
<text class="s" x="505" y="61">135</text><text class="s" x="505" y="70"><tspan class="gr">195907</tspan> <tspan class="rd">184807</tspan></text>
<text class="s" x="745" y="61">400</text><text class="s" x="745" y="70"><tspan class="gr">197507</tspan> <tspan class="rd">186407</tspan></text>
<text class="s" x="985" y="61">130</text><text class="s" x="985" y="70"><tspan class="gr">198027</tspan> <tspan class="rd">186927</tspan></text>
</g>

<g id="r40" transform="translate(0,5170)"><use href="#row4"/>
<text class="rd" x="25" y="-3">156</text><text class="rd" x="265" y="-3">157</text><text class="rd" x="505" y="-3">158</text><text class="rd" x="745" y="-3">159</text>
<use href="#O" x="25"/><rect class="cb" x="55" y="34" width="256" height="4"/><use href="#B" x="55"/>
<use href="#O" x="325"/><rect class="cb" x="355" y="34" width="79" height="4"/><use href="#B" x="355"/><use href="#O" x="445"/><use href="#B" x="460"/><use href="#Y" x="475"/>
<rect class="co" x="505" y="46" width="72" height="4"/><use href="#O" x="505"/><rect class="cb" x="595" y="34" width="45" height="4"/><use href="#B" x="595"/><rect class="cg" x="655" y="-2" width="76" height="4"/><use href="#G" x="655"/>
<use href="#G" x="745"/><use href="#R" x="760"/><use href="#Y" x="775"/><use href="#B" x="790"/><use href="#O" x="805"/><use href="#G" x="820"/><use href="#R" x="835"/><use href="#Y" x="850"/><rect class="cb" x="865" y="34" width="101" height="4"/><use href="#B" x="865"/>
<text class="s" x="265" y="61">92</text><text class="s" x="265" y="70"><tspan class="gr">198395</tspan> <tspan class="rd">187295</tspan></text>
<text class="s" x="505" y="61">149</text><text class="s" x="505" y="70"><tspan class="gr">198995</tspan> <tspan class="rd">187895</tspan></text>
<text class="s" x="745" y="61">113</text><text class="s" x="745" y="70"><tspan class="gr">199447</tspan> <tspan class="rd">188347</tspan></text>
<text class="s" x="985" y="61">245</text><text class="s" x="985" y="70"><tspan class="gr">200427</tspan> <tspan class="rd">189327</tspan></text>
</g>

<g id="r41" transform="translate(0,5300)"><use href="#row4"/>
<text x="731" y="-24">266 notes</text><text x="805" y="-3">ending</text>
<text class="rd" x="25" y="-3">160</text><text class="rd" x="265" y="-3">161</text><text class="rd" x="505" y="-3">162</text><text class="rd" x="745" y="-3">163</text>
<use href="#R" x="25"/><use href="#Y" x="40"/><use href="#B" x="55"/><use href="#O" x="70"/><use href="#G" x="85"/><use href="#R" x="100"/><use href="#Y" x="115"/><use href="#B" x="130"/><rect class="co" x="145" y="46" width="101" height="4"/><use href="#O" x="145"/>
<use href="#Y" x="265"/><rect class="cb" x="280" y="34" width="56" height="4"/><use href="#B" x="280"/><use href="#Y" x="355"/><rect class="cb" x="370" y="34" width="30" height="4"/><use href="#B" x="370"/><rect class="cy" x="415" y="22" width="30" height="4"/><use href="#Y" x="415"/><rect class="cr" x="460" y="10" width="37" height="4"/><use href="#R" x="460"/>
<use href="#B" x="505"/><rect class="co" x="520" y="46" width="46" height="4"/><use href="#O" x="520"/><use href="#B" x="580"/><rect class="co" x="595" y="46" width="136" height="4"/><use href="#O" x="595"/>
<use href="#G" x="745"/><use href="#G" x="760"/><use href="#G" x="775"/><use href="#G" x="790"/><use href="#G" x="805"/><use href="#G" x="820"/><use href="#G" x="835"/><use href="#G" x="850"/><use href="#G" x="865"/><use href="#G" x="895"/><use href="#G" x="910"/><use href="#G" x="925"/><use href="#G" x="940"/><use href="#G" x="955"/><use href="#Y" x="970"/>
<text class="s" x="265" y="61">245</text><text class="s" x="265" y="70"><tspan class="gr">201407</tspan> <tspan class="rd">190307</tspan></text>
<text class="s" x="505" y="61">180</text><text class="s" x="505" y="70"><tspan class="gr">202131</tspan> <tspan class="rd">191031</tspan></text>
<text class="s" x="745" y="61">136</text><text class="s" x="745" y="70"><tspan class="gr">229275</tspan> <tspan class="rd">191575</tspan></text>
<text class="s" x="985" y="61">375</text><text class="s" x="985" y="70"><tspan class="gr">230775</tspan> <tspan class="rd">193075</tspan></text>
</g>

<g id="r42" transform="translate(0,5430)"><use href="#row4"/>
<text class="rd" x="25" y="-3">164</text><text class="rd" x="265" y="-3">165</text><text class="rd" x="505" y="-3">166</text><text class="rd" x="745" y="-3">167</text>
<use href="#B16" x="25"/>
<use href="#O" x="265"/><use href="#B" x="295"/><use href="#Y" x="325"/><use href="#B" x="355"/><use href="#Y" x="385"/><use href="#R" x="415"/><use href="#Y" x="445"/><use href="#R" x="475"/>
<use href="#G" x="505"/><use href="#R" x="535"/><use href="#Y" x="565"/><use href="#G" x="595"/><use href="#Y" x="625"/><use href="#R" x="655"/><use href="#G" x="685"/>
<rect class="cg" x="745" y="-2" width="108" height="4"/><rect class="cy" x="745" y="22" width="108" height="4"/><use href="#G" x="745"/><use href="#Y" x="745"/>
<text class="s" x="265" y="61">400</text><text class="s" x="265" y="70"><tspan class="gr">232375</tspan> <tspan class="rd">194675</tspan></text>
<text class="s" x="505" y="61">200</text><text class="s" x="505" y="70"><tspan class="gr">233175</tspan> <tspan class="rd">195475</tspan></text>
<text class="s" x="745" y="61">175</text><text class="s" x="745" y="70"><tspan class="gr">233875</tspan> <tspan class="rd">196175</tspan></text>
<text class="s" x="985" y="61">92</text><text class="s" x="985" y="70"><tspan class="gr">234251</tspan> <tspan class="rd">196551</tspan></text>
</g>

<g id="footer">
<text x="0" y="5559" style="font-size:11.3px;fill:#333">http://charts.ajanata.com/rb/</text>
<text x="0" y="5573" style="font-size:11.3px;fill:#e00;font-weight:bold">WARNING: Work in progress. This information has NOT BEEN VERIFIED and MAY BE INCORRECT.</text>
<text x="1009" y="5559" style="font-size:11.3px;fill:#888;text-anchor:end">Generated at Fri, 26 Aug 2011 11:10:37 -0400.</text>
<text x="1009" y="5573" style="font-size:11.3px;fill:#888;text-anchor:end">Generated by ajanata's Chart Generator, r299.</text>
</g>
</svg>
